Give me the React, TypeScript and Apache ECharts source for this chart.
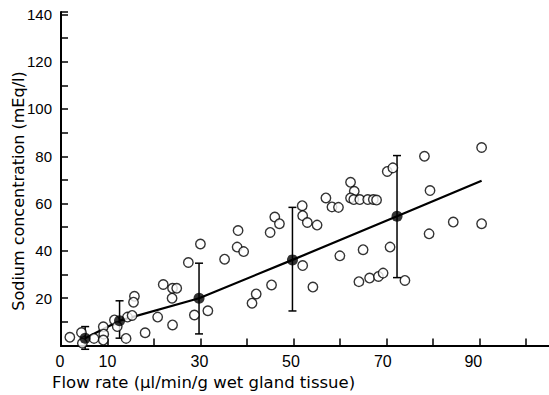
import React, { useEffect, useRef } from "react";
import * as echarts from "echarts";

// Individual observations: [flow rate, sodium concentration]
const observations: number[][] = [
  [1.9, 3.5], [4.4, 5.5], [4.6, 1.0], [7.1, 3.0], [9.1, 7.9], [9.2, 4.8], [9.1, 2.3],
  [11.5, 10.8], [12.1, 8.0], [14.0, 3.0], [14.3, 12.0], [15.3, 12.7], [15.8, 20.8],
  [15.6, 18.3], [18.1, 5.4], [20.8, 12.0], [22.0, 25.8], [23.9, 20.0], [24.0, 24.2],
  [24.9, 24.2], [24.0, 8.7], [27.4, 35.1], [30.0, 42.9], [28.7, 12.9], [31.6, 14.7],
  [35.2, 36.5], [38.1, 48.6], [37.9, 41.6], [39.3, 39.7], [41.1, 17.9], [42.0, 21.8],
  [45.0, 47.8], [46.0, 54.3], [47.0, 51.5], [45.3, 25.6], [51.9, 59.1], [52.0, 54.9],
  [53.0, 52.0], [55.1, 50.9], [52.0, 33.8], [54.2, 24.7], [57.0, 62.4], [58.3, 58.6],
  [59.7, 58.4], [60.0, 37.9], [62.3, 69.0], [63.1, 65.2], [62.3, 62.4], [63.0, 61.7],
  [64.3, 61.7], [66.0, 61.7], [67.2, 61.7], [67.9, 61.5], [65.0, 40.5], [64.1, 27.0],
  [66.4, 28.5], [68.3, 29.2], [69.3, 30.6], [70.8, 41.6], [70.2, 73.6], [71.4, 75.1],
  [74.0, 27.5], [78.2, 80.0], [79.4, 65.5], [79.2, 47.2], [84.4, 52.2], [90.5, 83.7],
  [90.5, 51.5],
];

// Group means with error bars
const meanX = [5.2, 12.6, 29.7, 49.8, 72.3];
const meanY = [3.1, 10.5, 20.0, 36.2, 54.6];
const errLow = [-1.6, 3.1, 4.9, 14.6, 28.7];
const errHigh = [8.0, 18.9, 34.8, 58.4, 80.3];

// Trend line end point
const lineEndX = 90.5;
const lineEndY = 69.7;

const xLabelValues = [0, 10, 30, 50, 70, 90];
const yLabelValues = [20, 40, 60, 80, 100, 120, 140];

const xTitle = "Flow rate (µl/min/g wet gland tissue)";
const yTitle = "Sodium concentration (mEq/l)";

const FONT = "'Liberation Sans', Arial, sans-serif";
const TITLE_FONT = "'DejaVu Sans', sans-serif";

// small leftward drift of the printed x labels (pixels), purely cosmetic
const xLabelShift: Record<number, number> = { 0: 2, 10: 0, 30: 2, 50: 5, 70: 7, 90: 12 };

export default function App() {
  const ref = useRef<HTMLDivElement>(null);

  useEffect(() => {
    document.body.style.margin = "0";
    if (!ref.current) return;
    const chart = echarts.init(ref.current, null, { renderer: "svg" });

    const meanPoints = meanX.map((x, i) => [x, meanY[i]]);
    const linePoints = [...meanPoints, [lineEndX, lineEndY]];
    const errData = meanX.map((x, i) => [x, errLow[i], errHigh[i]]);

    const rich: Record<string, any> = {};
    xLabelValues.forEach((v) => {
      rich["s" + v] = {
        fontFamily: FONT,
        fontSize: 16,
        color: "#000",
        padding: [0, xLabelShift[v] || 0, 0, 0],
      };
    });

    chart.setOption({
      animation: false,
      backgroundColor: "#ffffff",
      grid: { left: 61, right: 0, top: 12, bottom: 49.5, containLabel: false },
      xAxis: [
        {
          type: "value",
          min: 0,
          max: 105,
          interval: 10,
          splitLine: { show: false },
          axisLine: { show: true, onZero: false, lineStyle: { color: "#000", width: 2 } },
          axisTick: { show: true, inside: true, length: 7, lineStyle: { color: "#000", width: 1.5 } },
          axisLabel: {
            color: "#000",
            fontFamily: FONT,
            fontSize: 16,
            margin: 8,
            showMaxLabel: false,
            rich,
            formatter: (v: number) => (xLabelValues.includes(v) ? `{s${v}|${v}}` : ""),
          },
        },
        {
          type: "value",
          position: "top",
          min: 0,
          max: 105,
          splitLine: { show: false },
          axisLine: { show: true, lineStyle: { color: "#000", width: 2 } },
          axisTick: { show: false },
          axisLabel: { show: false },
        },
      ],
      yAxis: {
        type: "value",
        min: 0,
        max: 141,
        interval: 10,
        splitLine: { show: false },
        axisLine: { show: true, lineStyle: { color: "#000", width: 2 } },
        axisTick: { show: true, inside: true, length: 7, lineStyle: { color: "#000", width: 1.5 } },
        axisLabel: {
          color: "#000",
          fontFamily: FONT,
          fontSize: 15,
          margin: 9,
          formatter: (v: number) => (yLabelValues.includes(v) ? String(v) : ""),
        },
      },
      graphic: [
        {
          type: "text",
          x: 18,
          y: 191,
          rotation: Math.PI / 2,
          style: {
            text: yTitle,
            fill: "#000",
            fontFamily: TITLE_FONT,
            fontSize: 16,
            align: "center",
            verticalAlign: "middle",
          },
        },
        {
          type: "text",
          x: 52,
          y: 382,
          style: {
            text: xTitle,
            fill: "#000",
            fontFamily: TITLE_FONT,
            fontSize: 16.5,
            align: "left",
            verticalAlign: "middle",
          },
        },
      ],
      series: [
        {
          type: "line",
          data: linePoints,
          symbol: "none",
          lineStyle: { color: "#000", width: 2.2 },
          z: 3,
        },
        {
          type: "custom",
          clip: false,
          data: errData,
          z: 4,
          renderItem: (params: any, api: any) => {
            const x = api.value(0);
            const lo = api.coord([x, api.value(1)]);
            const hi = api.coord([x, api.value(2)]);
            const cap = 4;
            const style = { stroke: "#000", lineWidth: 1.5 };
            return {
              type: "group",
              children: [
                { type: "line", shape: { x1: lo[0], y1: lo[1], x2: hi[0], y2: hi[1] }, style },
                { type: "line", shape: { x1: hi[0] - cap, y1: hi[1], x2: hi[0] + cap, y2: hi[1] }, style },
                { type: "line", shape: { x1: lo[0] - cap, y1: lo[1], x2: lo[0] + cap, y2: lo[1] }, style },
              ],
            };
          },
        },
        {
          type: "scatter",
          data: observations,
          symbol: "circle",
          symbolSize: 9.5,
          itemStyle: { color: "#ffffff", borderColor: "#000", borderWidth: 1.4 },
          z: 5,
        },
        {
          type: "scatter",
          data: meanPoints,
          symbol: "circle",
          symbolSize: 11,
          itemStyle: { color: "#000", borderColor: "#000", borderWidth: 0 },
          z: 6,
        },
      ],
    });

    return () => chart.dispose();
  }, []);

  return <div ref={ref} style={{ width: 549, height: 395 }} />;
}
